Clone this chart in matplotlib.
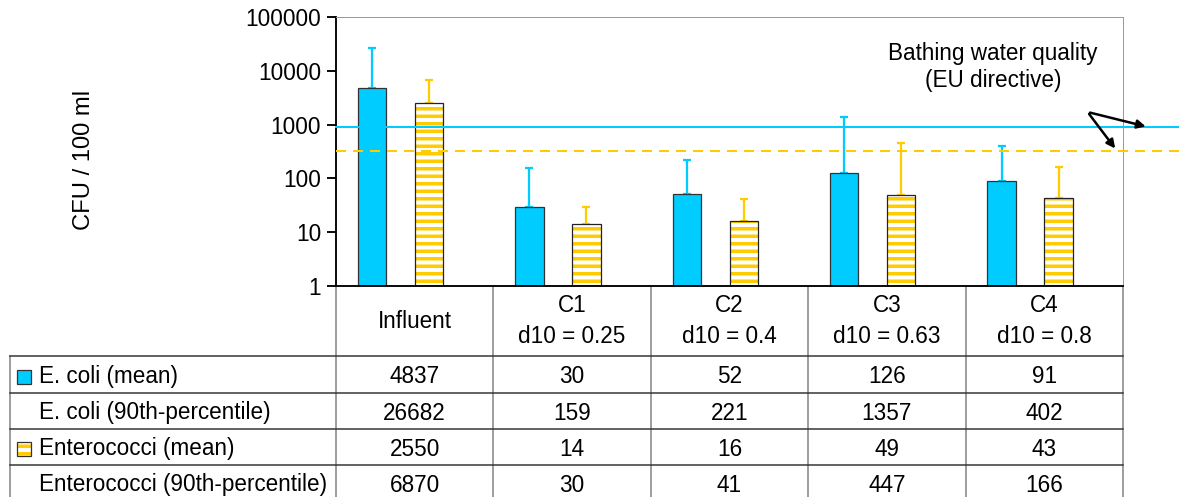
import matplotlib
matplotlib.use("Agg")
import matplotlib.pyplot as plt
import matplotlib.transforms as mtransforms
from matplotlib.patches import Rectangle
from matplotlib.ticker import NullLocator
import numpy as np

categories = ["Influent", "C1\nd10 = 0.25", "C2\nd10 = 0.4", "C3\nd10 = 0.63", "C4\nd10 = 0.8"]
ecoli_mean = [4837, 30, 52, 126, 91]
ecoli_p90 = [26682, 159, 221, 1357, 402]
entero_mean = [2550, 14, 16, 49, 43]
entero_p90 = [6870, 30, 41, 447, 166]
row_labels = ["E. coli (mean)", "E. coli (90th-percentile)",
              "Enterococci (mean)", "Enterococci (90th-percentile)"]
limit_ecoli = 900
limit_entero = 330

blue = "#00CCFF"
yellow = "#FFCC00"
FS = 18

plt.rcParams["font.family"] = ["Liberation Sans", "DejaVu Sans"]
plt.rcParams["hatch.linewidth"] = 2.8

W, H, DPI = 1179, 497, 90
fig = plt.figure(figsize=(W / DPI, H / DPI), dpi=DPI)

# layout in pixels
pl, pr, pt, pb = 336, 1123, 17, 286

# table drawn in a pixel-space axes
tab = fig.add_axes([0, 0, 1, 1])
tab.set_xlim(0, W)
tab.set_ylim(H, 0)
tab.axis("off")

ax = fig.add_axes([pl / W, 1 - pb / H, (pr - pl) / W, (pb - pt) / H])

x = np.arange(len(categories))
w = 0.181
ecoli_mean = np.array(ecoli_mean)
entero_mean = np.array(entero_mean)

ax.bar(x - 1.5 * w, ecoli_mean - 1, w, bottom=1, color=blue, edgecolor="#333333", lw=1, zorder=2)
ax.bar(x + 0.5 * w, entero_mean - 1, w, bottom=1, color="white", edgecolor=yellow,
       hatch="--", lw=0, zorder=2)
ax.bar(x + 0.5 * w, entero_mean - 1, w, bottom=1, fill=False, edgecolor="#222222", lw=1, zorder=2)

ax.errorbar(x - 1.5 * w, ecoli_mean, yerr=[np.zeros(5), np.array(ecoli_p90) - ecoli_mean],
            fmt="none", ecolor=blue, elinewidth=1.8, capsize=3.5, capthick=1.8, zorder=1)
ax.errorbar(x + 0.5 * w, entero_mean, yerr=[np.zeros(5), np.array(entero_p90) - entero_mean],
            fmt="none", ecolor=yellow, elinewidth=1.8, capsize=3.5, capthick=1.8, zorder=1)

ext = (W - pl) / (pr - pl)
ax.axhline(limit_ecoli, xmin=0, xmax=ext, color=blue, lw=1.6, clip_on=False, zorder=5)
ax.axhline(limit_entero, xmin=0, xmax=ext, color=yellow, lw=1.6, ls=(0, (5, 3.5)),
           clip_on=False, zorder=5)

ax.set_yscale("log")
ax.set_ylim(1, 1e5)
ax.set_xlim(-0.5, len(categories) - 0.5)
yt = [1, 10, 100, 1000, 10000, 100000]
ax.set_yticks(yt)
ax.set_yticklabels([str(v) for v in yt], fontsize=FS)
ax.yaxis.set_minor_locator(NullLocator())
ax.set_xticks([])
ax.tick_params(axis="y", length=7, width=1.5, pad=5)
ax.spines["left"].set_linewidth(1.5)
ax.spines["bottom"].set_linewidth(1.5)
ax.spines["top"].set_color("#999999")
ax.spines["right"].set_color("#999999")

trans = mtransforms.blended_transform_factory(ax.transAxes, ax.transData)
ax.text(0.835, 11750, "Bathing water quality\n(EU directive)", transform=trans,
        ha="center", va="center", fontsize=FS, linespacing=1.25)
for target in [(1.032, limit_ecoli), (0.992, limit_entero)]:
    ax.annotate("", xy=target, xytext=(0.955, 1715), xycoords=trans, textcoords=trans,
                arrowprops=dict(arrowstyle="-|>", color="black", lw=2, mutation_scale=14),
                annotation_clip=False, zorder=6)

fig.text(84 / W, 1 - 160 / H, "CFU / 100 ml", rotation=90, ha="center", va="center",
         fontsize=FS + 1)

# data table
col_w = (pr - pl) / len(categories)
edges = [pl + i * col_w for i in range(len(categories) + 1)]
row_y = [356, 393, 429, 465, 501]
for e in edges:
    tab.plot([e, e], [pb, H], color="#808080", lw=1.2)
tab.plot([10, 10], [row_y[0], H], color="#808080", lw=1.2)
for yy in row_y[:-1]:
    tab.plot([10, pr], [yy, yy], color="#333333", lw=1.2)

for i, c in enumerate(categories):
    tab.text(edges[i] + col_w / 2, (pb + row_y[0]) / 2, c, ha="center", va="center",
             fontsize=FS, linespacing=1.4)

rows = [ecoli_mean, ecoli_p90, entero_mean, entero_p90]
for r, (lab, vals) in enumerate(zip(row_labels, rows)):
    yc = (row_y[r] + row_y[r + 1]) / 2 + 2
    tab.text(39, yc, lab, ha="left", va="center", fontsize=FS)
    for i, v in enumerate(vals):
        tab.text(edges[i] + col_w / 2, yc, str(v), ha="center", va="center", fontsize=FS)

yc0 = (row_y[0] + row_y[1]) / 2 + 2
tab.add_patch(Rectangle((17, yc0 - 7), 14, 14, facecolor=blue, edgecolor="#333333", lw=1))
yc2 = (row_y[2] + row_y[3]) / 2 + 2
tab.add_patch(Rectangle((17, yc2 - 7), 14, 14, facecolor="white", edgecolor=yellow, hatch="--", lw=0))
tab.add_patch(Rectangle((17, yc2 - 7), 14, 14, fill=False, edgecolor="#333333", lw=1))

fig.savefig("out.png", dpi=DPI)
